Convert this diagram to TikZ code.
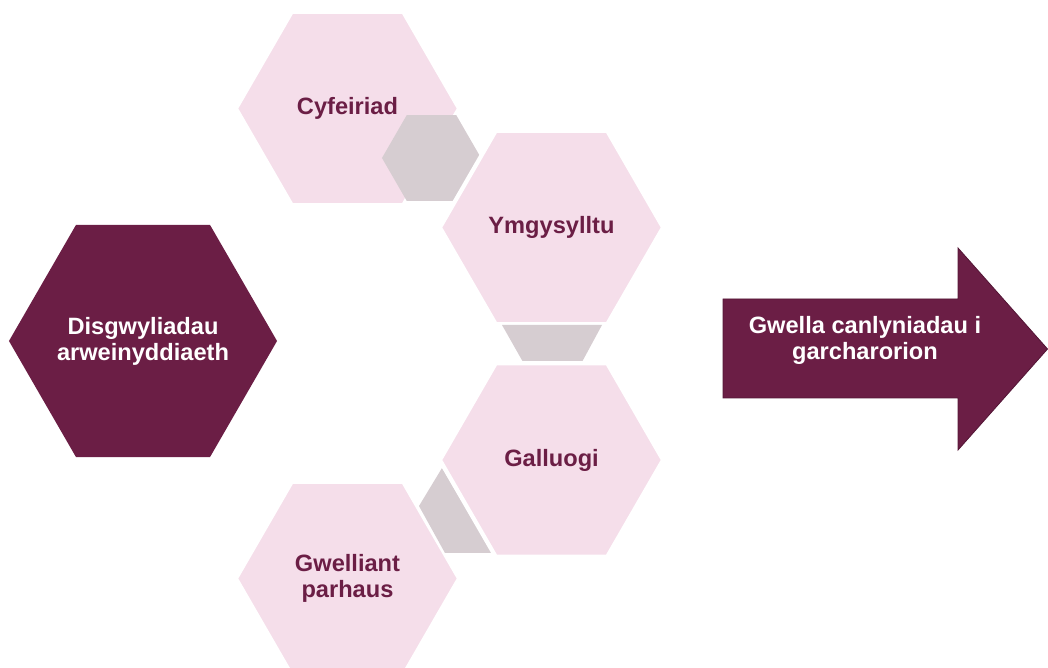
\documentclass[tikz,border=0pt]{standalone}
\usepackage{fontspec}
\setmainfont{Liberation Sans}
\usetikzlibrary{shapes.geometric,positioning}
\definecolor{maroon}{RGB}{107,30,69}
\definecolor{maroonline}{RGB}{84,22,54}
\definecolor{hexpink}{RGB}{245,222,234}
\definecolor{hexgrey}{RGB}{214,205,209}
\tikzset{
    hexa/.style={
           regular polygon,
           regular polygon sides=6,
           fill=hexpink, draw=white, line width=3pt,
           minimum size=5.58cm,
           inner sep=0pt,
           text=maroon,
           font=\bfseries\fontsize{16.8}{18.5}\selectfont,
           align=center},
    bighexa/.style={
           regular polygon,
           regular polygon sides=6,
           fill=maroon, draw=none,
           minimum size=6.7cm,
           inner sep=0pt},
    greyhexa/.style={
           regular polygon,
           regular polygon sides=6,
           fill=hexgrey, draw=none,
           minimum size=2.475cm,
           inner sep=0pt},
    filler/.style={
           fill=hexgrey, draw=none},
    whitetxt/.style={
           text=white,
           align=center,
           font=\bfseries\fontsize{16.8}{18.5}\selectfont}
}

\begin{document}
\begin{tikzpicture}[x=0.025cm, y=-0.025cm]
        \useasboundingbox (0,0) rectangle (1048,668);

        % left
        \node[bighexa] (disg) at (143,341) {};
        \node[whitetxt] (disgtxt) at (disg.center) {Disgwyliadau\\arweinyddiaeth};

        % hexagon chain
        \node[hexa] (cyf) at (347.5,108.5) {Cyfeiriad};
        \node[greyhexa] (g1) at (431.5,158) {};
        \node[hexa] (ymg) at (551.5,227.5) {Ymgysylltu};
        \fill[filler] (502,325) -- (602,325) -- (582,362) -- (523,362) -- cycle;
        \node[hexa] (gwp) at (347.5,578.5) {Gwelliant\\parhaus};
        \fill[filler] (442,468) -- (419,506) -- (445,553) -- (492,553) -- cycle;
        \node[hexa] (gal) at (551.5,460) {Galluogi};

        % outcome arrow
        \filldraw[fill=maroon, draw=maroonline, line width=0.6pt]
            (723,299) -- (958,299) -- (958,248) -- (1047.5,349)
            -- (958,450) -- (958,398) -- (723,398) -- cycle;
        \node[whitetxt] (gwella) at (865,340) {Gwella canlyniadau i\\garcharorion};
\end{tikzpicture}
\end{document}
